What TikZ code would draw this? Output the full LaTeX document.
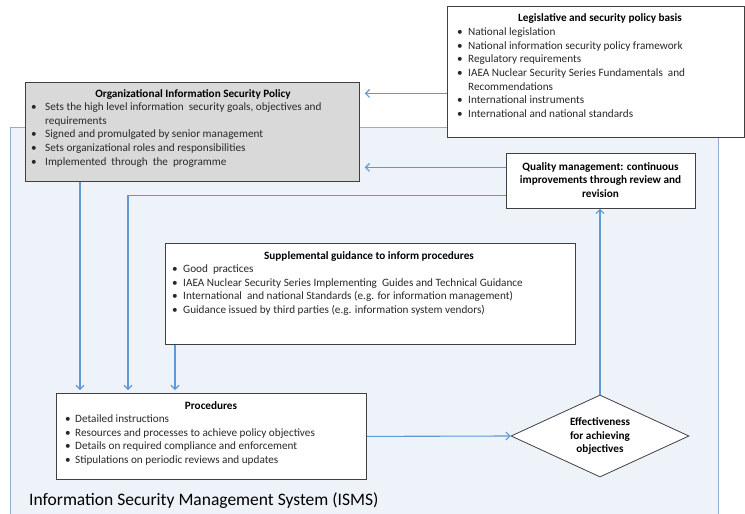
\documentclass[tikz,border=0pt]{standalone}
\usepackage{fontspec}
\setmainfont{Carlito}
\usetikzlibrary{arrows.meta,shapes.geometric}
\definecolor{bgfill}{RGB}{238,243,250}
\definecolor{bgline}{RGB}{150,172,202}
\definecolor{boxline}{RGB}{64,64,64}
\definecolor{orgfill}{RGB}{217,217,217}
\definecolor{arrcol}{RGB}{95,152,210}
\definecolor{txtcol}{RGB}{40,40,40}
\newcommand{\bitem}[2][11pt]{\strut\makebox[#1][l]{\textbullet}#2}
\newcommand{\bcont}[2][11pt]{\strut\hspace*{#1}#2}
\begin{document}
\begin{tikzpicture}[x=1pt,y=-1pt,
  bodyfont/.style={font=\fontsize{11.2}{13.6}\selectfont},
  boxst/.style={draw=boxline, line width=0.8pt, fill=white, rectangle, inner sep=0pt, anchor=north west},
  bgst/.style={draw=bgline, line width=0.8pt, fill=bgfill, rectangle, inner sep=0pt, anchor=north west},
  titlest/.style={font=\fontsize{11.2}{13.6}\selectfont\bfseries, text=black, inner sep=0pt, anchor=base},
  listst/.style={bodyfont, text=txtcol, align=left, inner sep=0pt, anchor=north west},
  ctrst/.style={font=\fontsize{11.2}{13.6}\selectfont\bfseries, text=black, align=center, inner sep=0pt, anchor=north},
  arr/.style={draw=arrcol, line width=1.1pt, -{Straight Barb[length=4pt,width=8pt,line width=1.1pt]}}
]
\useasboundingbox (0,0) rectangle (745,514);

% background ISMS container
\node[bgst, minimum width=708pt, minimum height=400pt] (isms) at (10,127) {};
\node[inner sep=0pt, anchor=base west, font=\fontsize{17.5}{20}\selectfont, text=black] (ismslbl) at (29,505.5) {Information Security Management System (ISMS)};

% Legislative box
\node[boxst, minimum width=297pt, minimum height=131pt] (leg) at (447,6) {};
\node[titlest] (legt) at (600,21.5) {Legislative and security policy basis};
\node[listst] (legl) at (457,26) {%
\bitem{National legislation}\\
\bitem{National information security policy framework}\\
\bitem{Regulatory requirements}\\
\bitem{IAEA Nuclear Security Series Fundamentals\ \ and}\\
\bcont{Recommendations}\\
\bitem{International instruments}\\
\bitem{International and national standards}};

% Organizational policy box
\node[boxst, fill=orgfill, minimum width=334pt, minimum height=99pt] (org) at (25,82) {};
\node[titlest] (orgt) at (193,97.5) {Organizational Information Security Policy};
\node[listst] (orgl) at (31,101) {%
\bitem[14pt]{Sets the high level information\ \ security goals, objectives and}\\
\bcont[14pt]{requirements}\\
\bitem[14pt]{Signed and promulgated by senior management}\\
\bitem[14pt]{Sets organizational roles and responsibilities}\\
\bitem[14pt]{Implemented\ \ through\ \ the\ \ programme}};

% Quality management box
\node[boxst, minimum width=189pt, minimum height=55pt] (qual) at (506,153) {};
\node[ctrst] (qualt) at (600.5,160.5) {\strut Quality management: continuous\\\strut improvements through review and\\\strut revision};

% Supplemental guidance box
\node[boxst, minimum width=410pt, minimum height=101pt] (supp) at (165,243) {};
\node[titlest] (suppt) at (369,259.5) {Supplemental guidance to inform procedures};
\node[listst] (suppl) at (172,263) {%
\bitem{Good\ \ practices}\\
\bitem{IAEA Nuclear Security Series Implementing\ \ Guides and Technical Guidance}\\
\bitem{International\ \ and national Standards (e.g. for information management)}\\
\bitem{Guidance issued by third parties (e.g. information system vendors)}};

% Procedures box
\node[boxst, minimum width=310pt, minimum height=86pt] (proc) at (56,393) {};
\node[titlest] (proct) at (211,409.5) {Procedures};
\node[listst] (procl) at (65,413) {%
\bitem[10pt]{Detailed instructions}\\
\bitem[10pt]{Resources and processes to achieve policy objectives}\\
\bitem[10pt]{Details on required compliance and enforcement}\\
\bitem[10pt]{Stipulations on periodic reviews and updates}};

% Decision diamond
\node[diamond, draw=boxline, line width=0.8pt, fill=white, inner sep=0pt, minimum width=178pt, minimum height=82pt] (dia) at (600,436) {};
\node[ctrst] (diat) at (600,416) {\strut Effectiveness\\\strut for achieving\\\strut objectives};

% connectors
\coordinate (p1) at ([yshift=-21.5pt]leg.west);
\draw[arr, shorten >=5pt] (p1) -- (p1 -| org.east);
\coordinate (p2) at ([yshift=13.5pt]qual.west);
\draw[arr, shorten >=5pt] (p2) -- (p2 -| org.east);
\coordinate (p3) at ([yshift=-14.5pt]qual.west);
\coordinate (p3b) at ([xshift=72pt]proc.north west);
\draw[arr, shorten >=3pt] (p3) -| (p3b);
\coordinate (p4) at ([xshift=55pt]org.south west);
\draw[arr, shorten >=3pt] (p4) -- (p4 |- proc.north);
\coordinate (p5) at ([xshift=10pt]supp.south west);
\draw[arr, shorten >=3pt] (p5) -- (p5 |- proc.north);
\draw[arr] (proc.east) -- (dia.west);
\draw[arr] (dia.north) -- (dia.north |- qual.south);
\end{tikzpicture}
\end{document}
